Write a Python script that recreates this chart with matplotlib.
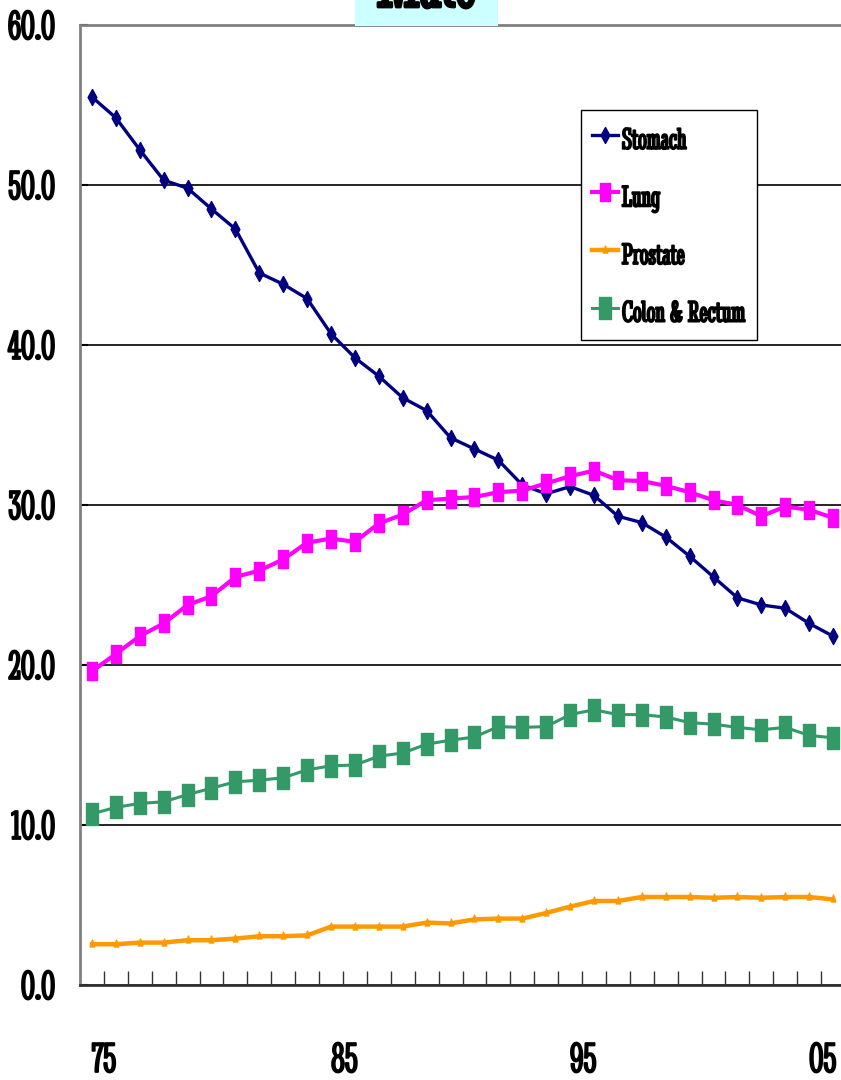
import matplotlib
matplotlib.use('Agg')
import matplotlib.pyplot as plt
import matplotlib.patheffects as pe
from matplotlib.path import Path
from matplotlib.patches import Rectangle
import numpy as np

# Data (age-adjusted rates, male), 1975-2006
years = list(range(1975, 2007))
tick_years = [1975, 1985, 1995, 2005]
tick_labels = ['75', '85', '95', '05']

stomach = [55.5, 54.2, 52.2, 50.3, 49.8, 48.5, 47.25, 44.5, 43.8, 42.9, 40.7, 39.2, 38.05, 36.7, 35.9, 34.2,
           33.5, 32.8, 31.25, 30.7, 31.15, 30.6, 29.3, 28.9, 28.0, 26.8, 25.5, 24.2, 23.75, 23.55, 22.6, 21.8]
lung = [19.6, 20.7, 21.8, 22.6, 23.75, 24.3, 25.5, 25.9, 26.6, 27.65, 27.9, 27.7, 28.85, 29.4, 30.3, 30.4,
        30.5, 30.8, 30.9, 31.35, 31.8, 32.15, 31.55, 31.5, 31.2, 30.8, 30.3, 30.0, 29.3, 29.9, 29.7, 29.2]
prostate = [2.55, 2.55, 2.65, 2.65, 2.8, 2.8, 2.9, 3.05, 3.05, 3.1, 3.65, 3.65, 3.65, 3.65, 3.9, 3.85,
            4.1, 4.15, 4.15, 4.5, 4.9, 5.25, 5.25, 5.5, 5.5, 5.5, 5.45, 5.5, 5.45, 5.5, 5.5, 5.35]
colon = [10.7, 11.1, 11.35, 11.45, 11.9, 12.3, 12.7, 12.8, 12.95, 13.45, 13.7, 13.75, 14.3, 14.5, 15.05, 15.3,
         15.5, 16.15, 16.1, 16.15, 16.9, 17.2, 16.9, 16.9, 16.75, 16.4, 16.3, 16.1, 15.95, 16.1, 15.6, 15.45]

FONT = 'Stint Ultra Condensed'
bold = [pe.withStroke(linewidth=1.3, foreground='black')]

# narrow (horizontally squeezed) marker shapes
diamond = Path([(0, 1), (0.55, 0), (0, -1), (-0.55, 0), (0, 1)], closed=True)
rect_lung = Path([(-0.6, -1), (0.6, -1), (0.6, 1), (-0.6, 1), (-0.6, -1)], closed=True)
rect_colon = Path([(-0.56, -1), (0.56, -1), (0.56, 1), (-0.56, 1), (-0.56, -1)], closed=True)
tri = Path([(-0.5, -0.55), (0.5, -0.55), (0, 1), (-0.5, -0.55)], closed=True)

W, H = 841, 1080
fig = plt.figure(figsize=(W / 100, H / 100), dpi=100)
ax = fig.add_axes([80 / W, 1 - 985 / H, 765 / W, 960 / H])

x = np.arange(len(years))
ax.plot(x, stomach, color='#000080', lw=2.4, marker=diamond, ms=11.5, label='Stomach', zorder=4)
ax.plot(x, lung, color='#FF00FF', lw=3, marker=rect_lung, ms=12.5, label='Lung', zorder=4)
ax.plot(x, prostate, color='#FF9900', lw=3.2, marker=tri, ms=6.5, label='Prostate', zorder=4)
ax.plot(x, colon, color='#339966', lw=2.2, marker=rect_colon, ms=16, label='Colon & Rectum', zorder=4)

ax.set_xlim(-0.5, len(years) - 0.5)
ax.set_ylim(0, 60)
ax.set_yticks(np.arange(0, 61, 10))
ax.set_yticklabels([f'{v:.1f}' for v in range(0, 61, 10)])
ax.yaxis.grid(True, color='black', lw=1.2)
ax.set_axisbelow(True)

ax.set_xticks([years.index(y) for y in tick_years])
ax.set_xticklabels(tick_labels)
ax.set_xticks(np.arange(0.5, len(years) - 1, 1), minor=True)
ax.tick_params(axis='x', which='major', length=0, pad=41)
ax.tick_params(axis='x', which='minor', direction='in', length=10, width=1, color='#333333')
ax.tick_params(axis='y', direction='in', length=6, width=1.5, pad=18)
for t in ax.get_xticklabels():
    t.set_ha('left')
    t.set_fontsize(31)
for t in ax.get_yticklabels():
    t.set_fontsize(30)
for t in ax.get_xticklabels() + ax.get_yticklabels():
    t.set_family(FONT)
    t.set_path_effects(bold)

ax.spines['right'].set_visible(False)
ax.spines['top'].set_color('#808080')
ax.spines['top'].set_linewidth(2)
ax.spines['left'].set_color('#808080')
ax.spines['left'].set_linewidth(2)
ax.spines['bottom'].set_color('#333333')
ax.spines['bottom'].set_linewidth(2)

leg = ax.legend(loc='upper left', bbox_to_anchor=(581 / W, 1 - 110 / H), bbox_transform=fig.transFigure,
                borderaxespad=0, prop={'family': FONT, 'size': 22}, frameon=True, fancybox=False,
                edgecolor='black', framealpha=1, borderpad=0.36, labelspacing=0.73, handleheight=1.4,
                handlelength=0.85, handletextpad=0.13)
leg.get_frame().set_linewidth(1)
for t in leg.get_texts():
    t.set_path_effects(bold)

# title box, mostly cut off at the top
fig.add_artist(Rectangle((355 / W, 1 - 26 / H), 143 / W, 26 / H, transform=fig.transFigure,
                         facecolor='#CCFFFF', edgecolor='none', zorder=5))
fig.text(426.5 / W, 1 - 7 / H, 'Male', family=FONT, fontsize=58, ha='center', va='baseline',
         zorder=6, path_effects=[pe.withStroke(linewidth=2, foreground='black')])

fig.savefig('out.png', dpi=100)
